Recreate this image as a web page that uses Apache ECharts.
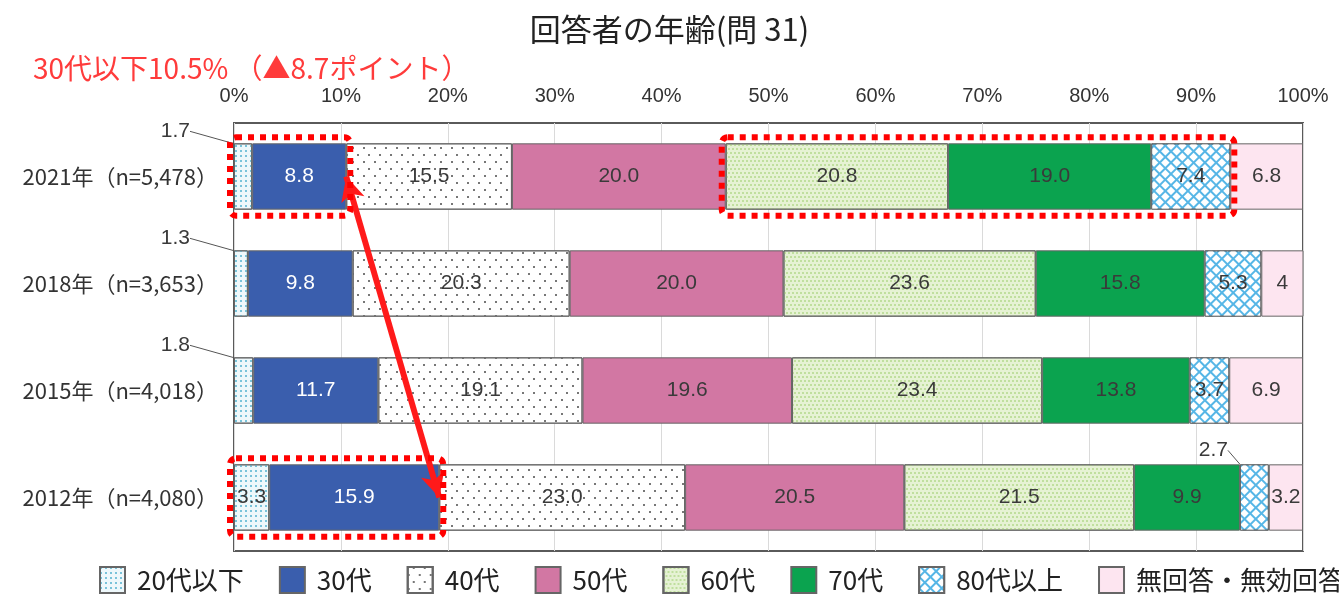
<!DOCTYPE html>
<html>
<head>
<meta charset="utf-8">
<script src="https://cdn.jsdelivr.net/npm/echarts@6/dist/echarts.min.js"></script>
<style>
  html, body { margin: 0; padding: 0; background: #fff; }
  #chart { width: 1339px; height: 601px; }
</style>
</head>
<body>
<div id="chart"></div>
<script>
const years = ['2021年（n=5,478）', '2018年（n=3,653）', '2015年（n=4,018）', '2012年（n=4,080）'];
const ageNames = ['20代以下', '30代', '40代', '50代', '60代', '70代', '80代以上', '無回答・無効回答'];

// values as printed on the bars (%)
const age20 = ['1.7', '1.3', '1.8', '3.3'];
const age30 = ['8.8', '9.8', '11.7', '15.9'];
const age40 = ['15.5', '20.3', '19.1', '23.0'];
const age50 = ['20.0', '20.0', '19.6', '20.5'];
const age60 = ['20.8', '23.6', '23.4', '21.5'];
const age70 = ['19.0', '15.8', '13.8', '9.9'];
const age80 = ['7.4', '5.3', '3.7', '2.7'];
const noAnswer = ['6.8', '4', '6.9', '3.2'];

const xTicks = [0, 10, 20, 30, 40, 50, 60, 70, 80, 90, 100];

const chart = echarts.init(document.getElementById('chart'));

const numFont = "'Liberation Sans Narrow', 'Liberation Sans', sans-serif";
const jpFont = "'Noto Sans CJK JP', sans-serif";
const borderStyle = { borderColor: '#666', borderWidth: 1 };

const styles = [
  { color: '#EEF8FB', decal: { symbol: 'rect', symbolSize: 1, color: '#79C3DA', dashArrayX: [1.5, 2.5], dashArrayY: [1.5, 2.5] } },
  { color: '#3A5EAD' },
  { color: '#FFFFFF', decal: { symbol: 'rect', symbolSize: 1, color: '#777', dashArrayX: [[1.5, 8.5], [0, 5, 1.5, 3.5]], dashArrayY: [1.5, 5] } },
  { color: '#D277A3' },
  { color: '#E6F2D4', decal: { symbol: 'circle', symbolSize: 1, color: '#B3D88C', dashArrayX: [[2, 2], [0, 2, 2, 0]], dashArrayY: [2, 1.5] } },
  { color: '#0BA34F' },
  { color: '#56B6E6', decal: { symbol: 'rect', symbolSize: 1, color: '#FFFFFF', dashArrayX: [6, 1.4], dashArrayY: [6, 1.4], rotation: Math.PI / 4 } },
  { color: '#FDE5F0' }
];
const allData = [age20, age30, age40, age50, age60, age70, age80, noAnswer];

const under30 = years.map((y, i) => +age20[i] + +age30[i]);

const series = ageNames.map((name, s) => ({
  name: name,
  type: 'bar',
  stack: 'total',
  barWidth: '62%',
  data: allData[s],
  itemStyle: Object.assign({}, styles[s], borderStyle),
  label: {
    show: true,
    position: 'inside',
    formatter: p => p.data,
    fontFamily: numFont,
    fontSize: 21,
    color: s === 1 ? '#FFFFFF' : '#3A3A3A'
  },
  labelLine: { show: s === 0 || s === 6, lineStyle: { color: '#555', width: 1 } },
  labelLayout: s === 0 ? function (p) {
    if (p.dataIndex < 3) {
      return { x: p.rect.x - 44, y: p.rect.y - 12, align: 'right', verticalAlign: 'middle' };
    }
  } : s === 6 ? function (p) {
    if (p.dataIndex === 3) {
      return { x: p.rect.x - 12, y: p.rect.y - 14, align: 'right', verticalAlign: 'middle' };
    }
  } : undefined,
  markLine: s === 1 ? {
    silent: true,
    symbol: ['arrow', 'arrow'],
    symbolSize: [18, 24],
    label: { show: false },
    lineStyle: { color: '#FF1A1A', width: 6, type: 'solid' },
    data: [[{ coord: [under30[0], years[0]] }, { coord: [under30[3], years[3]] }]]
  } : undefined
}));

const option = {
  animation: false,
  title: [
    {
      text: '回答者の年齢(問 31)',
      left: 'center',
      top: 9,
      textStyle: { fontFamily: jpFont, fontSize: 31, fontWeight: 'normal', color: '#222' }
    },
    {
      text: '30代以下10.5% （▲8.7ポイント）',
      left: 28,
      top: 49,
      textStyle: { fontFamily: jpFont, fontSize: 28, fontWeight: 'normal', color: '#FF3B3B' }
    }
  ],
  legend: {
    data: ageNames,
    bottom: 2,
    left: 94,
    width: 1600,
    icon: 'rect',
    itemWidth: 25,
    itemHeight: 26,
    itemGap: 35,
    textStyle: { fontFamily: jpFont, fontSize: 26, color: '#222', padding: [0, 0, 0, 7] }
  },
  grid: {
    left: 234,
    right: 36,
    top: 123,
    bottom: 50,
    show: true,
    borderColor: '#5A5A5A',
    borderWidth: 2
  },
  xAxis: {
    type: 'value',
    position: 'top',
    min: xTicks[0],
    max: xTicks[xTicks.length - 1],
    interval: 10,
    axisLine: { show: false },
    axisTick: { show: false },
    axisLabel: { formatter: '{value}%', fontFamily: numFont, fontSize: 20, color: '#333', margin: 17 },
    splitLine: { lineStyle: { color: '#DADADA' } }
  },
  yAxis: {
    type: 'category',
    inverse: true,
    data: years,
    axisLine: { show: false },
    axisTick: { show: false },
    axisLabel: { fontFamily: jpFont, fontSize: 22, color: '#333', margin: 16 }
  },
  series: series
};

chart.setOption(option);

// red dotted boxes around groups of segments
function px(x, i) { return chart.convertToPixel({ gridIndex: 0 }, [x, years[i]]); }
const band = Math.abs(px(0, 1)[1] - px(0, 0)[1]);
const half = band * 0.62 / 2 + 6;
function box(i, from, to) {
  const a = px(from, i), b = px(to, i);
  return {
    type: 'rect',
    z: 100,
    shape: { x: a[0] - 4, y: a[1] - half, width: b[0] - a[0] + 8, height: half * 2, r: 6 },
    style: { fill: null, stroke: '#FF0000', lineWidth: 6, lineDash: [6, 6] }
  };
}
const start60 = +age20[0] + +age30[0] + +age40[0] + +age50[0];
const end80 = start60 + +age60[0] + +age70[0] + +age80[0];
chart.setOption({
  graphic: [
    box(0, 0, under30[0]),
    box(0, start60, end80),
    box(3, 0, under30[3])
  ]
});
</script>
</body>
</html>
